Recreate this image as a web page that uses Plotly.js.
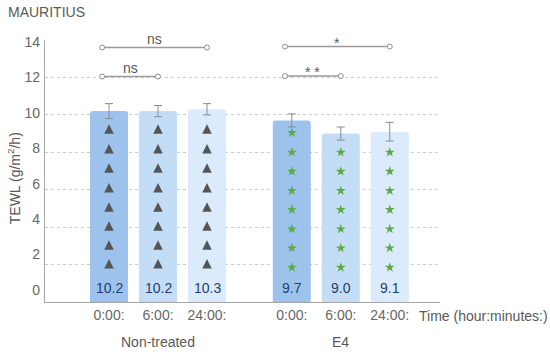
<!DOCTYPE html>
<html>
<head>
<meta charset="utf-8">
<script src="https://cdn.plot.ly/plotly-3.0.1.min.js"></script>
<style>html,body{margin:0;padding:0;background:#fff;}#chart{width:550px;height:355px;}</style>
</head>
<body>
<div id="chart"></div>
<script>
// ---- data ----
const groups = ['Non-treated', 'E4'];
const times = ['0:00:', '6:00:', '24:00:'];
const nonTreatedMeans = [10.2, 10.2, 10.3];
const nonTreatedErr = [0.4, 0.3, 0.3];
const e4Means = [9.7, 9.0, 9.1];
const e4Err = [0.35, 0.35, 0.5];
const triangleLevels = [2.3, 3.3, 4.31, 5.33, 6.36, 7.42, 8.44, 9.5];
const triangleCounts = [8, 8, 8];
const starLevels = [1.85, 2.88, 3.9, 4.93, 5.95, 6.98, 8.0, 9.05];
const starCounts = [8, 7, 7];
const compGroup = [0, 0, 1, 1];
const compFrom = [0, 0, 0, 0];
const compTo = [2, 1, 2, 1];
const compLevel = [13.6, 12.05, 13.65, 12.07];
const compLabel = ['ns', 'ns', '*', '* *'];
const yTicks = [0, 2, 4, 6, 8, 10, 12, 14];

// ---- styling / positions ----
const FONT = 'Liberation Sans, Arial, sans-serif';
const GRAY = '#595959';
const barColors = ['#9dc3ec', '#c4ddf6', '#dcebfb'];
const groupOffset = [0, 3.73];
const xpos = (g, i) => groupOffset[g] + i;

const means = [nonTreatedMeans, e4Means];
const errs = [nonTreatedErr, e4Err];

const traces = [];
const annotations = [];

groups.forEach((g, gi) => {
  const xs = times.map((t, i) => xpos(gi, i));
  traces.push({
    type: 'bar', x: xs, y: means[gi], width: 0.776,
    marker: {color: barColors, cornerradius: 3, line: {width: 0}},
    error_y: {type: 'data', array: errs[gi], visible: true, color: '#8c8c8c', thickness: 1, width: 4},
    hoverinfo: 'skip', showlegend: false
  });
  xs.forEach((x, i) => {
    annotations.push({x: x, y: 0, xref: 'x', yref: 'y', text: means[gi][i].toFixed(1),
      showarrow: false, yanchor: 'middle', yshift: 14,
      font: {family: FONT, size: 14, color: '#1f3f6e'}});
  });
  annotations.push({x: xpos(gi, 1), y: 0, xref: 'x', yref: 'paper', text: g, showarrow: false,
    yanchor: 'middle', yshift: -40, font: {family: FONT, size: 14, color: GRAY}});
});

// triangles in non-treated bars
{
  const tx = [], ty = [];
  times.forEach((t, i) => {
    for (let k = 0; k < triangleCounts[i]; k++) { tx.push(xpos(0, i)); ty.push(triangleLevels[k]); }
  });
  traces.push({type: 'scatter', mode: 'markers', x: tx, y: ty, hoverinfo: 'skip', showlegend: false,
    marker: {symbol: 'arrow-up', size: 9.5, color: '#555555', line: {width: 0}}});
}
// stars in E4 bars
{
  const sx = [], sy = [];
  times.forEach((t, i) => {
    for (let k = 0; k < starCounts[i]; k++) { sx.push(xpos(1, i)); sy.push(starLevels[k]); }
  });
  traces.push({type: 'scatter', mode: 'markers', x: sx, y: sy, hoverinfo: 'skip', showlegend: false,
    marker: {symbol: 'star', size: 7.5, color: '#5aab45', line: {width: 0}}});
}
// significance brackets
compLabel.forEach((lab, c) => {
  const x0 = xpos(compGroup[c], compFrom[c]) - 0.14;
  const x1 = xpos(compGroup[c], compTo[c]);
  traces.push({type: 'scatter', mode: 'lines+markers', x: [x0, x1], y: [compLevel[c], compLevel[c]],
    line: {color: '#9a9a9a', width: 1.5}, hoverinfo: 'skip', showlegend: false,
    marker: {symbol: 'circle', size: 5, color: '#ffffff', line: {color: '#8c8c8c', width: 1}}});
  annotations.push({x: (x0 + x1) / 2, y: compLevel[c], xref: 'x', yref: 'y', text: lab, showarrow: false,
    yanchor: 'middle', yshift: lab === 'ns' ? 8 : 4, font: {family: FONT, size: 14, color: GRAY}});
});

// dummy trace for tick-label axis
traces.push({type: 'scatter', mode: 'markers', x: [xpos(0, 0)], y: [null], yaxis: 'y2', hoverinfo: 'skip', showlegend: false});

annotations.push({x: 0.942, y: 0, xref: 'paper', yref: 'paper', text: 'Time (hour:minutes:)', showarrow: false,
  xanchor: 'left', yanchor: 'middle', yshift: -14, font: {family: FONT, size: 14, color: GRAY}});
annotations.push({x: -0.078, y: 0.473, xref: 'paper', yref: 'paper', text: 'TEWL (g/m<sup>2</sup>/h)', showarrow: false,
  textangle: -90, xanchor: 'center', yanchor: 'middle', font: {family: FONT, size: 14, color: GRAY}});

const tickX = [], tickT = [];
groups.forEach((g, gi) => times.forEach((t, i) => { tickX.push(xpos(gi, i)); tickT.push(t); }));

const layout = {
  width: 550, height: 355,
  margin: {l: 45, r: 110, t: 40, b: 53},
  paper_bgcolor: '#ffffff', plot_bgcolor: '#ffffff',
  font: {family: FONT, size: 14, color: GRAY},
  title: {text: 'MAURITIUS', x: 8 / 550, xref: 'container', xanchor: 'left', y: 1 - 12 / 355, yref: 'container',
    yanchor: 'middle', font: {family: FONT, size: 14, color: GRAY}},
  barmode: 'overlay',
  xaxis: {range: [-1.306, 6.755], tickvals: tickX, ticktext: tickT, showgrid: false, zeroline: false,
    showline: true, linecolor: '#a6a6a6', linewidth: 1, ticks: '', fixedrange: true,
    tickfont: {family: FONT, size: 14, color: '#666666'}},
  yaxis: {range: [0, 14], tickvals: yTicks, showticklabels: false, showgrid: true, gridcolor: '#cccccc',
    griddash: 'dot', gridwidth: 1, zeroline: false, showline: true, linecolor: '#a6a6a6', linewidth: 1, ticks: ''},
  yaxis2: {overlaying: 'y', side: 'left', range: [-0.68, 14.11], tickvals: yTicks, showgrid: false, zeroline: false,
    showline: false, ticks: '', ticklabelstandoff: 4, tickfont: {family: FONT, size: 14, color: '#666666'}},
  annotations: annotations,
  showlegend: false
};

Plotly.newPlot('chart', traces, layout, {staticPlot: true, displayModeBar: false});
</script>
</body>
</html>
